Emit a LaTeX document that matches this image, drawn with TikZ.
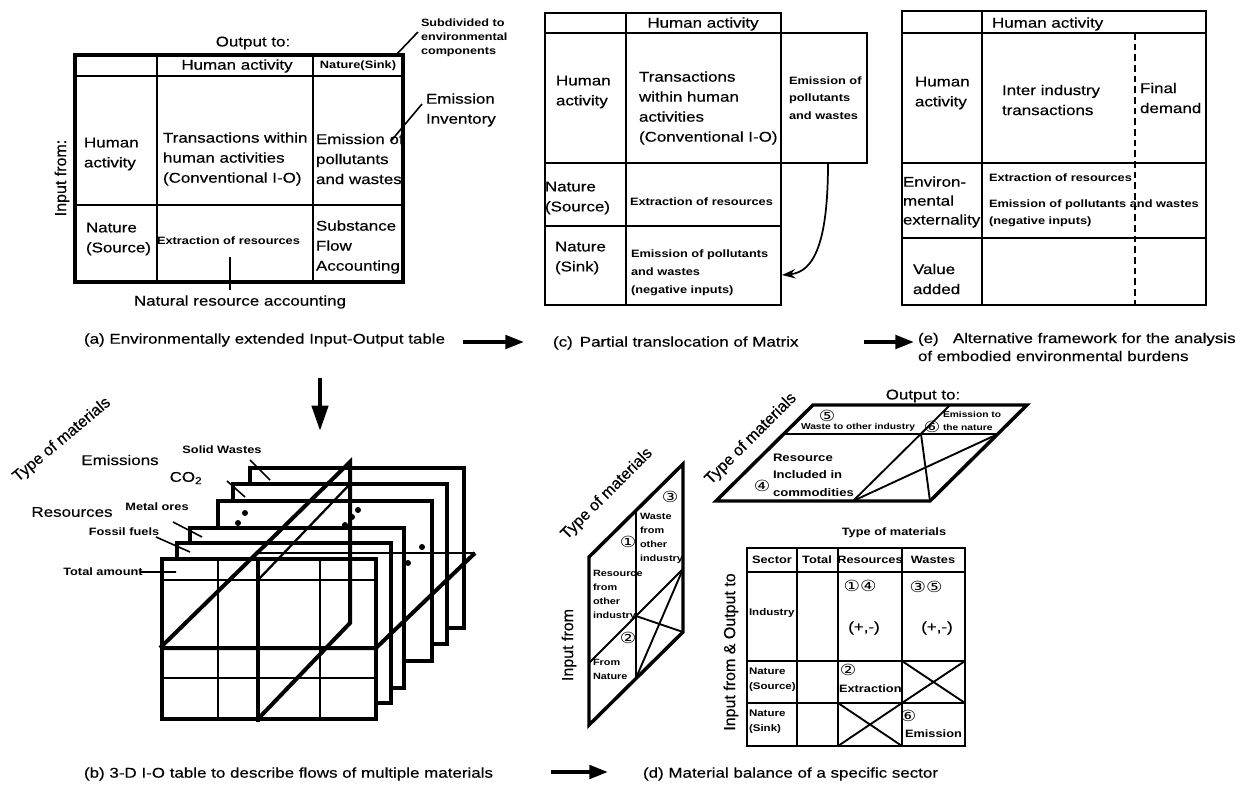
\documentclass[tikz,border=0pt]{standalone}
\usepackage{fontspec}
\setmainfont{Liberation Sans}[FakeStretch=1.2,UprightFeatures={FakeBold=0.35}]
\newfontfamily\rotf{Liberation Sans}[UprightFeatures={FakeBold=0.35}]
\newfontfamily\circf{DejaVu Sans}[FakeStretch=1.2]
\usetikzlibrary{arrows.meta}
\newcommand\fM{\fontsize{10.6}{15}\selectfont}
\newcommand\fS{\fontsize{8}{13}\selectfont\bfseries}
\newcommand\fSS{\fontsize{7.2}{11}\selectfont\bfseries}
\newcommand\fT{\fontsize{6.4}{9.5}\selectfont\bfseries}
\newcommand\fR{\rotf\fontsize{12}{14}\selectfont}
\newcommand\fC{\circf\fontsize{11.5}{12}\selectfont}
\begin{document}
\begin{tikzpicture}[x=0.75pt,y=-0.75pt,
  every node/.style={inner sep=0pt,outer sep=0pt},
  tA/.style={font=\fM,align=left},
  tS/.style={font=\fS,align=left},
  tSS/.style={font=\fSS,align=left},
  tT/.style={font=\fT,align=left},
  tR/.style={font=\fR},
  tC/.style={font=\fC},
  tbl/.style={line width=1.4pt},
  tblM/.style={line width=1.9pt},
  tblO/.style={line width=2.5pt},
  frm/.style={line width=2.6pt,fill=white},
  grd/.style={line width=1.7pt},
  pln/.style={line width=3pt},
  lead/.style={line width=1.2pt},
  bigarr/.style={line width=3pt,-{Triangle[length=14pt,width=10pt]}},
  downarr/.style={line width=3.2pt,-{Triangle[length=19pt,width=12pt]}},
  curvarr/.style={line width=1.3pt,-{Stealth[length=10pt,width=7pt]}},
  ppg/.style={line width=2.6pt,line join=miter},
]
\fill[white] (0,0) rectangle (1246,792);
\useasboundingbox (0,0) rectangle (1246,792);

% ================= (a)
\draw[tblO] (75,55) rectangle (403,282);
\draw[tblM] (75,76) -- (403,76);
\draw[tbl] (75,205) -- (403,205) (157,55) -- (157,282) (313,55) -- (313,282);
\node[tA] (aOut) at (253,43) {Output to:};
\node[tA] (aHH) at (237,66) {Human activity};
\node[tS] (aHN) at (358,66) {Nature(Sink)};
\node[tA,anchor=west] (aRH) at (84,154) {Human\\activity};
\node[tA,anchor=west] (aTr) at (163,159) {Transactions within\\human activities\\(Conventional I-O)};
\node[tA,anchor=west] (aEm) at (316,159) {Emission of\\pollutants\\and wastes};
\node[tA,anchor=west] (aNS) at (86,239) {Nature\\(Source)};
\node[tS,anchor=west] (aEx) at (157,241) {Extraction of resources};
\node[tA,anchor=west] (aSF) at (316,247) {Substance\\Flow\\Accounting};
\node[tA] (aNR) at (240,302) {Natural resource accounting};
\coordinate (aNRs) at (230,257);
\coordinate (aNRe) at (230,290);
\draw[tbl] (aNRs) -- (aNRe);
\node[tR,rotate=90] (aIn) at (62,178) {Input from:};
\node[anchor=west,align=left,font=\fontsize{7.9}{10.5}\selectfont\bfseries] (aSub) at (421,38) {Subdivided to\\environmental\\components};
\coordinate (aSubL1) at (395,56);
\coordinate (aSubL2) at (418,32);
\draw[lead] (aSubL1) -- (aSubL2);
\node[tA,anchor=west] (aEI) at (426,110) {Emission\\Inventory};
\coordinate (aEIL1) at (391,141);
\coordinate (aEIL2) at (422,104);
\draw[lead] (aEIL1) -- (aEIL2);
\node[tA,anchor=west] (capA) at (84,340) {(a) Environmentally extended Input-Output table};
\coordinate (arAC1) at (463,342);
\coordinate (arAC2) at (524,342);
\draw[bigarr] (arAC1) -- (arAC2);

% ================= (c)
\draw[tbl] (545,13) rectangle (781,305);
\draw[tbl] (545,33) -- (867,33) -- (867,163) -- (545,163);
\draw[tbl] (545,226) -- (781,226) (626,13) -- (626,305);
\node[tA] (cHH) at (703,24) {Human activity};
\node[tA,anchor=west] (cRH) at (556,92) {Human\\activity};
\node[tA,anchor=west] (cTr) at (639,108) {Transactions\\within human\\activities\\(Conventional I-O)};
\node[tS,anchor=west,font=\fontsize{8}{13}\selectfont\bfseries] (cEm) at (789,98) {Emission of\\pollutants\\and wastes};
\node[tA,anchor=west] (cNSo) at (545,198) {Nature\\(Source)};
\node[tS,anchor=west] (cEx) at (630,202) {Extraction of resources};
\node[tA,anchor=west] (cNSi) at (555,258) {Nature\\(Sink)};
\node[tS,anchor=west,font=\fontsize{8}{13.5}\selectfont\bfseries] (cEm2) at (631,273) {Emission of pollutants\\and wastes\\(negative inputs)};
\coordinate (cA1) at (828,163);
\coordinate (cA2) at (782,275);
\draw[curvarr] (cA1) .. controls (828,240) and (815,272) .. (cA2);
\node[tA,anchor=west] (capC) at (553,343) {(c)\enspace Partial translocation of Matrix};
\coordinate (arCE1) at (864,342);
\coordinate (arCE2) at (914,342);
\draw[bigarr] (arCE1) -- (arCE2);

% ================= (e)
\draw[tbl] (902,11) rectangle (1206,305);
\draw[tbl] (902,33) -- (1206,33) (902,163) -- (1206,163) (902,238) -- (1206,238) (982,11) -- (982,305);
\draw[tbl,dash pattern=on 5pt off 3pt] (1135,33) -- (1135,305);
\node[tA,anchor=west] (eHH) at (992,24) {Human activity};
\node[tA,anchor=west] (eRH) at (915,93) {Human\\activity};
\node[tA,anchor=west] (eIn) at (1002,100) {Inter industry\\transactions};
\node[tA,anchor=west] (eFD) at (1140,98) {Final\\demand};
\node[tA,anchor=west,font=\fontsize{10.6}{14.2}\selectfont] (eEnv) at (903,202) {Environ-\\mental\\externality};
\node[tS,anchor=west] (eEx) at (989,178) {Extraction of resources};
\node[tS,anchor=west] (eEm) at (989,213) {Emission of pollutants and wastes\\(negative inputs)};
\node[tA,anchor=west] (eVA) at (913,279) {Value\\added};
\node[tA,anchor=west,font=\fontsize{10.6}{13.5}\selectfont] (capE) at (918,347) {(e)\quad Alternative framework for the analysis\\of embodied environmental burdens};

% ================= (b)
\coordinate (bAr1) at (320,378);
\coordinate (bAr2) at (320,431);
\draw[downarr] (bAr1) -- (bAr2);
\foreach \dx/\dy in {88/-91,71/-75,56/-58,28/-31,15/-16}{
  \draw[frm] ({162+\dx},{559+\dy}) rectangle ++(214,160);
}
\draw[frm] (162,559) rectangle (376,719);
\draw[grd] (218,559) -- (218,719) (320,559) -- (320,719) (162,580) -- (376,580) (162,678) -- (376,678);
\draw[pln] (258,559) -- (258,722);
\draw[pln] (160,648) -- (376,648) -- (475,553);
\draw[grd] (475,553) -- (255,553);
\draw[pln,line join=miter] (160,648) -- (350,462) -- (350,623) -- (258,719);
\draw[grd] (258,580) -- (350,484);
\foreach \p in {(238,523),(245,513),(345,525),(352,517),(358,510),(408,563),(422,547)}{
  \fill \p circle (3);
}
\node[tR,rotate=40] (bTy) at (62,440) {Type of materials};
\node[tA] (bEm) at (120,460) {Emissions};
\node[tS] (bSW) at (222,450) {Solid Wastes};
\node[tA] (bCO) at (186,478) {CO\textsubscript{2}};
\node[tA] (bRe) at (72,512) {Resources};
\node[tS] (bMO) at (157,507) {Metal ores};
\node[tS] (bFF) at (124,532) {Fossil fuels};
\node[tS] (bTA) at (103,572) {Total amount};
\coordinate (bL1a) at (250,460); \coordinate (bL1b) at (270,480);
\coordinate (bL2a) at (227,481); \coordinate (bL2b) at (245,497);
\coordinate (bL3a) at (173,522); \coordinate (bL3b) at (202,537);
\coordinate (bL4a) at (156,537); \coordinate (bL4b) at (190,552);
\coordinate (bL5a) at (141,572); \coordinate (bL5b) at (176,572);
\draw[lead] (bL1a) -- (bL1b) (bL2a) -- (bL2b) (bL3a) -- (bL3b) (bL4a) -- (bL4b) (bL5a) -- (bL5b);
\node[tA,anchor=west] (capB) at (84,774) {(b) 3-D I-O table to describe flows of multiple materials};
\coordinate (arBD1) at (551,772);
\coordinate (arBD2) at (608,772);
\draw[bigarr] (arBD1) -- (arBD2);

% ================= (d) vertical parallelogram
\draw[ppg] (589,557) -- (683,464) -- (683,632) -- (589,725) -- cycle;
\draw[tbl] (636,510) -- (636,678);
\draw[tbl] (589,663) -- (683,569);
\draw[tbl] (636,616) -- (683,632) (683,569) -- (636,678);
\node[tR,rotate=45] (dvTy) at (607,494) {Type of materials};
\node[tR,rotate=90] (dvIn) at (569,645) {Input from};
\node[tC] (dv3) at (670,497) {③};
\node[tT,anchor=west,font=\fontsize{6.8}{10.5}\selectfont\bfseries] (dvW) at (640,538) {Waste\\from\\other\\industry};
\node[tC] (dv1) at (628,542) {①};
\node[tT,anchor=west,font=\fontsize{6.8}{10.5}\selectfont\bfseries] (dvR) at (593,595) {Resource\\from\\other\\industry};
\node[tC] (dv2) at (628,638) {②};
\node[tT,anchor=west,font=\fontsize{6.8}{10.5}\selectfont\bfseries] (dvN) at (593,669) {From\\Nature};

% ================= (d) horizontal parallelogram
\draw[ppg] (716,501) -- (930,501) -- (1027,405) -- (813,405) -- cycle;
\draw[tbl] (784,434) -- (998,434);
\draw[tbl] (853,501) -- (950,405);
\draw[tbl] (921,434) -- (930,501) (998,434) -- (853,501);
\node[tA] (dhOut) at (923,396) {Output to:};
\node[tR,rotate=45] (dhTy) at (751,439) {Type of materials};
\node[tC] (dh5) at (827,416) {⑤};
\node[tT,anchor=west] (dhW) at (801,427) {Waste to other industry};
\node[tC] (dh6) at (932,427) {⑥};
\node[tT,anchor=west] (dhE) at (943,421) {Emission to\\the nature};
\node[tC] (dh4) at (762,486) {④};
\node[anchor=west,align=left,font=\fontsize{8.2}{13}\selectfont\bfseries] (dhR) at (773,475) {Resource\\Included in\\commodities};

% ================= (d) table
\draw[tbl] (747,548) rectangle (965,746);
\draw[tbl] (747,572) -- (965,572) (747,661) -- (965,661) (747,703) -- (965,703);
\draw[tbl] (797,548) -- (797,746) (838,548) -- (838,746) (902,548) -- (902,746);
\draw[tbl] (902,661) -- (965,703) (902,703) -- (965,661);
\draw[tbl] (838,703) -- (902,746) (838,746) -- (902,703);
\node[tS] (dTy) at (894,533) {Type of materials};
\node[tS] (dSec) at (772,560) {Sector};
\node[tS] (dTot) at (817,560) {Total};
\node[tS] (dRes) at (870,560) {Resources};
\node[tS] (dWas) at (933,560) {Wastes};
\node[tSS,anchor=west] (dInd) at (749,613) {Industry};
\node[tC] (d14) at (860,586) {①④};
\node[tA] (dPM1) at (864,628) {(+,-)};
\node[tC] (d35) at (926,587) {③⑤};
\node[tA] (dPM2) at (937,628) {(+,-)};
\node[tC] (d2) at (848,670) {②};
\node[tS,anchor=west] (dEx) at (839,689) {Extraction};
\node[tC] (d6) at (908,716) {⑥};
\node[tS,anchor=west] (dEm) at (905,734) {Emission};
\node[tSS,anchor=west] (dNSo) at (749,680) {Nature\\(Source)};
\node[tSS,anchor=west] (dNSi) at (749,722) {Nature\\(Sink)};
\node[tR,rotate=90] (dIO) at (731,652) {Input from \& Output to};
\node[tA,anchor=west] (capD) at (643,774) {(d) Material balance of a specific sector};
\end{tikzpicture}
\end{document}
